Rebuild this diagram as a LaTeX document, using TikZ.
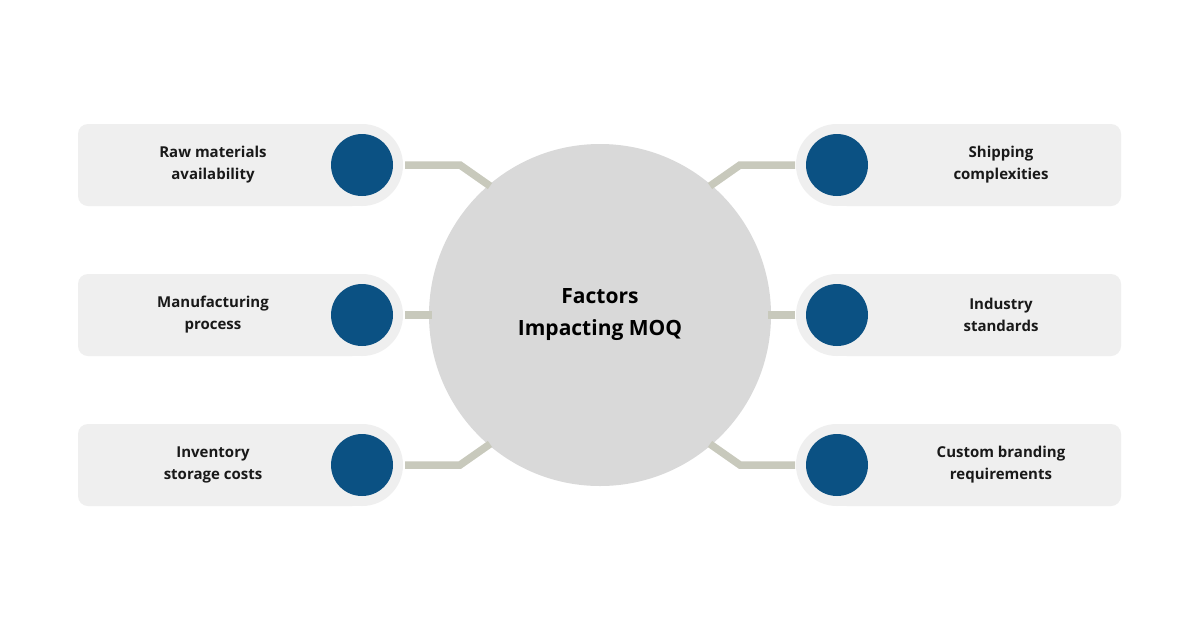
\documentclass[tikz,border=0pt]{standalone}
\usepackage{fontspec}
\setmainfont{Open Sans}
\definecolor{boxgray}{HTML}{EFEFEF}
\definecolor{hubgray}{HTML}{D9D9D9}
\definecolor{dotblue}{HTML}{0B5183}
\definecolor{linkgray}{HTML}{C8C9BC}
\tikzset{
  factorbox/.style={fill=boxgray, draw=none},
  dot/.style={circle, fill=dotblue, minimum size=62pt, inner sep=0pt},
  factortext/.style={font=\bfseries\fontsize{15}{22}\selectfont, align=center, text=black!90},
  link/.style={draw=linkgray, line width=7.5pt}
}
\begin{document}
\begin{tikzpicture}[x=1pt, y=-1pt]
  \useasboundingbox[fill=white] (0,0) rectangle (1200,630);

  % hub
  \node (hub) [circle, fill=hubgray, minimum size=342pt, inner sep=0pt,
    font=\bfseries\fontsize{21}{32}\selectfont, align=center] at (600,315) {Factors\\Impacting MOQ};

  % connectors
  \draw[link] (405,165) -- (460,165) -- (490,186);
  \draw[link] (405,315) -- (432,315);
  \draw[link] (405,465) -- (460,465) -- (490,444);
  \draw[link] (795,165) -- (740,165) -- (710,186);
  \draw[link] (795,315) -- (768,315);
  \draw[link] (795,465) -- (740,465) -- (710,444);

  % left boxes
  \foreach \y/\name/\txt in {165/rawmat/{Raw materials\\availability},
                             315/manuf/{Manufacturing\\process},
                             465/invent/{Inventory\\storage costs}}{
    \fill[factorbox, rounded corners=10pt] (78,\y-41) rectangle (362,\y+41);
    \fill[factorbox] (200,\y-41) rectangle (362,\y+41);
    \fill[factorbox] (362,\y) circle (41pt);
    \node (\name) [dot] at (362,\y) {};
    \node (\name-t) [factortext] at (213,\y) {\txt};
  }

  % right boxes
  \foreach \y/\name/\txt in {165/ship/{Shipping\\complexities},
                             315/indus/{Industry\\standards},
                             465/brand/{Custom branding\\requirements}}{
    \fill[factorbox, rounded corners=10pt] (837,\y-41) rectangle (1121,\y+41);
    \fill[factorbox] (837,\y-41) rectangle (1000,\y+41);
    \fill[factorbox] (837,\y) circle (41pt);
    \node (\name) [dot] at (837,\y) {};
    \node (\name-t) [factortext] at (1001,\y) {\txt};
  }
\end{tikzpicture}
\end{document}
